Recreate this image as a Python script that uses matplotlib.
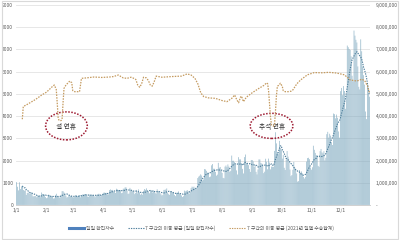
import numpy as np
import pandas as pd
import matplotlib
matplotlib.use("Agg")
import matplotlib.pyplot as plt
from matplotlib.patches import Ellipse, Rectangle
from matplotlib.ticker import FuncFormatter
from matplotlib.lines import Line2D

plt.rcParams['font.family'] = ['Noto Sans CJK KR', 'DejaVu Sans']

# ---- data ----
jan = [1029, 820, 657, 1020, 714, 838, 869, 674, 641, 665, 451, 537, 562, 524, 513, 580, 520, 389, 386, 404,
       401, 346, 431, 392, 437, 349, 559, 497, 469, 458, 355]
feb = [305, 336, 467, 451, 370, 393, 372, 289, 303, 444, 504, 403, 362, 326, 344, 457, 621, 621, 561, 448,
       416, 332, 357, 440, 396, 406, 415, 355]
mar = [344, 355, 444, 424, 398, 416, 446, 346, 446, 470, 465, 488, 490, 459, 382, 363, 469, 445, 463, 452,
       456, 415, 346, 428, 430, 494, 505, 482, 384, 447, 506]
apr = [551, 558, 543, 543, 473, 478, 668, 700, 671, 677, 614, 587, 542, 731, 698, 673, 658, 672, 532, 549,
       731, 735, 797, 785, 644, 499, 512, 769, 680, 661]
may = [627, 606, 488, 541, 676, 525, 701, 564, 463, 511, 463, 635, 715, 681, 747, 610, 619, 528, 654, 646,
       561, 666, 585, 530, 516, 707, 629, 587, 533, 480, 430]
jun = [459, 677, 681, 695, 744, 556, 485, 454, 602, 611, 565, 556, 452, 399, 545, 540, 611, 507, 482, 429,
       357, 395, 645, 610, 634, 668, 614, 501, 595, 761]
jul = [826, 794, 825, 743, 711, 746, 1212, 1275, 1316, 1378, 1324, 1100, 1150, 1615, 1600, 1536, 1455, 1454,
       1252, 1278, 1784, 1842, 1630, 1629, 1487, 1318, 1365, 1896, 1674, 1710, 1539]
aug = [1442, 1219, 1202, 1725, 1776, 1704, 1823, 1729, 1492, 1537, 2223, 1987, 1990, 1928, 1816, 1556, 1372,
       2152, 2050, 2052, 1880, 1626, 1418, 2155, 2271, 1882, 1841, 1793, 1619, 1487, 2025]
sep = [2024, 1961, 1709, 1804, 1490, 1375, 1597, 2050, 2049, 1892, 1865, 1755, 1433, 1497, 2080, 1943, 1605,
       2087, 1910, 1604, 1729, 1720, 1716, 2434, 3273, 2771, 2383, 2289, 2885, 2564]
oct_ = [2486, 2086, 2248, 1673, 1575, 2028, 2427, 2175, 1953, 1594, 1297, 1347, 1584, 1940, 1684, 1616, 1420,
        1050, 1073, 1571, 1440, 1508, 1422, 1266, 1190, 1266, 1952, 2111, 2124, 2061, 1686]
nov = [1589, 1697, 2667, 2482, 2344, 2248, 2224, 1758, 1715, 2425, 2520, 2368, 2324, 2419, 2006, 2125, 3187,
       3292, 3034, 3205, 3120, 2827, 2699, 4116, 4088, 3899, 4068, 3925, 3309, 3032]
dec = [5123, 5266, 4944, 5352, 5128, 4325, 4954, 7175, 7102, 7022, 6977, 6689, 5817, 5567, 7850, 7622, 7435,
       7314, 6236, 5318, 5202, 7456, 6919, 6233, 5842, 5419, 4207, 3865, 5409, 5037, 4875]

# 7-day moving average of daily transport totals, day index -> millions
transport_days = [6, 7, 12, 20, 26, 31, 37, 39, 41, 42, 43, 44, 46, 47, 48, 49, 51, 55, 57, 58, 60, 65, 66, 67,
                  72, 80, 88, 96, 100, 105, 110, 114, 118, 120, 123, 125, 127, 129, 131, 134, 136, 138, 140, 142,
                  144, 150, 160, 170, 176, 180, 184, 187, 190, 193, 198, 205, 212, 217, 222, 225, 227, 229, 231,
                  232, 234, 237, 243, 250, 255, 258, 259, 260, 261, 262, 263, 265, 266, 267, 268, 269, 271, 272,
                  274, 275, 277, 280, 283, 285, 289, 293, 300, 307, 315, 322, 330, 334, 338, 341, 344, 348, 351,
                  356, 359, 362, 364]
transport_ma = [3.86, 4.43, 4.55, 4.76, 4.95, 5.08, 5.33, 5.40, 5.2, 4.6, 3.9, 3.8, 3.8, 3.85, 4.6, 5.25, 5.4,
                5.58, 5.5, 5.15, 5.1, 5.1, 5.4, 5.7, 5.72, 5.76, 5.74, 5.76, 5.78, 5.85, 5.72, 5.7, 5.75, 5.72,
                5.65, 5.4, 5.3, 5.45, 5.75, 5.72, 5.6, 5.4, 5.35, 5.55, 5.8, 5.75, 5.78, 5.8, 5.9, 5.85, 5.7,
                5.45, 5.05, 4.88, 4.82, 4.8, 4.7, 4.65, 4.8, 4.95, 4.75, 4.6, 4.85, 4.9, 4.65, 4.85, 5.05, 5.25,
                5.38, 5.5, 5.45, 5.1, 4.5, 3.9, 3.6, 3.55, 3.6, 4.2, 4.9, 5.35, 5.4, 5.48, 5.35, 5.15, 5.1, 5.1,
                5.12, 5.18, 5.45, 5.63, 5.86, 5.96, 5.95, 5.97, 5.94, 5.9, 5.86, 5.75, 5.63, 5.6, 5.58, 5.66,
                5.6, 5.35, 5.05]

month_labels = ["1/1", "2/1", "3/1", "4/1", "5/1", "6/1", "7/1", "8/1", "9/1", "10/1", "11/1", "12/1"]
legend_labels = ["일일 확진자수", "7 구간의 이동 평균 (일일 확진자수)", "7 구간의 이동 평균 (2021년 일별 수송합계)"]
notes = ["설 연휴", "추석 연휴"]

daily = np.array(jan + feb + mar + apr + may + jun + jul + aug + sep + oct_ + nov + dec, dtype=float)
days = np.arange(len(daily))
ma = pd.Series(daily).rolling(7).mean()
month_starts = np.cumsum([0] + [len(m) for m in [jan, feb, mar, apr, may, jun, jul, aug, sep, oct_, nov]])

# ---- figure ----
fig = plt.figure(figsize=(4, 2.4), dpi=100)
fig.patches.append(Rectangle((0.004, 0.006), 0.992, 0.988, transform=fig.transFigure,
                             fill=False, edgecolor="#d9d9d9", linewidth=0.8))
ax = fig.add_axes([0.04, 0.146, 0.885, 0.833])
ax2 = ax.twinx()

bar_col = "#7ea8bf"
bars = ax.bar(days, daily, width=0.6, color=bar_col, linewidth=0, zorder=2)
for b in bars:
    b.set_snap(False)
ax.plot(days, ma, linestyle=(0, (1.2, 1.0)), color="#4f7f9c", linewidth=0.8, zorder=3)
ax2.plot(np.array(transport_days), np.array(transport_ma) * 1e6, linestyle=(0, (1.2, 1.0)),
         color="#c49a5f", linewidth=0.9, zorder=3)

ax.set_xlim(-0.5, len(daily) - 0.5)
ax.set_ylim(0, 9000)
ax2.set_ylim(0, 9e6)
ax.set_yticks(np.arange(0, 9001, 1000))
ax2.set_yticks(np.arange(0, 9e6 + 1, 1e6))
ax.yaxis.set_major_formatter(FuncFormatter(lambda v, p: f"{int(v)}"))
ax2.yaxis.set_major_formatter(FuncFormatter(lambda v, p: "-" if v == 0 else f"{int(v):,}"))
ax.set_xticks(month_starts)
ax.set_xticklabels(month_labels)
ax.grid(axis="y", color="#e3e3e3", linewidth=0.6, zorder=0)
ax.set_axisbelow(True)
for a in (ax, ax2):
    for s in ("top", "left", "right"):
        a.spines[s].set_visible(False)
    a.spines["bottom"].set_color("#d0d0d0")
    a.spines["bottom"].set_linewidth(0.6)
ax.tick_params(axis="both", length=0, labelsize=3.5, colors="#595959", pad=2)
ax2.tick_params(axis="y", length=0, labelsize=3.5, colors="#595959", pad=4)

# holiday ellipses
ell_col = "#9e1b32"
for cx, w, h, txt in [(51.5, 43, 1260, notes[0]), (263, 44, 1130, notes[1])]:
    e = Ellipse((cx, 3560), w, h, fill=False, edgecolor=ell_col, linewidth=1.1,
                linestyle=(0, (1, 1)), zorder=5)
    ax.add_patch(e)
    ax.text(cx, 3530, txt, ha="center", va="center", fontsize=4.8, color="#333333", zorder=6)

# legend
handles = [Line2D([0], [0], color="#4f81bd", linewidth=2.2),
           Line2D([0], [0], color="#4f7f9c", linestyle=(0, (1.2, 1.0)), linewidth=0.8),
           Line2D([0], [0], color="#c49a5f", linestyle=(0, (1.2, 1.0)), linewidth=0.8)]
fig.legend(handles, legend_labels, loc="center", bbox_to_anchor=(0.503, 0.05), ncol=3, frameon=False,
           fontsize=3.5, handlelength=3.2, columnspacing=2.8, handletextpad=0.4, labelcolor="#595959")

fig.savefig("out.png", dpi=100)
